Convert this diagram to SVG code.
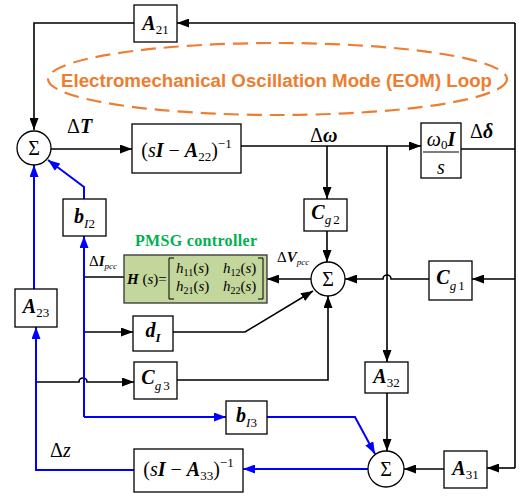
<svg xmlns="http://www.w3.org/2000/svg" width="519" height="497" viewBox="0 0 519 497">
<style>
.bx{fill:#fff;stroke:#000;stroke-width:1.3}
.sg{fill:#fff;stroke:#000;stroke-width:1.3}
.k{fill:none;stroke:#000;stroke-width:1.6}
.b{fill:none;stroke:#0000ff;stroke-width:2}
.m{font-family:"Liberation Serif","Times New Roman",serif;font-size:20px;fill:#000}
.m15{font-family:"Liberation Serif","Times New Roman",serif;font-size:15px;fill:#000}
.c{text-anchor:middle}
.bi{font-weight:bold;font-style:italic}
.it{font-style:italic}
.sb{font-size:13px}
.s10{font-size:10px}
.s9{font-size:9px}
</style>
<defs>
<marker id="ak" markerUnits="userSpaceOnUse" markerWidth="12" markerHeight="9" refX="12" refY="4.5" orient="auto"><path d="M0,0 L12,4.5 L0,9 z" fill="#000"/></marker>
<marker id="ab" markerUnits="userSpaceOnUse" markerWidth="12" markerHeight="9" refX="12" refY="4.5" orient="auto"><path d="M0,0 L12,4.5 L0,9 z" fill="#0000ff"/></marker>
</defs>
<rect width="519" height="497" fill="#fff"/>

<g id="eom-loop">
<ellipse cx="277.5" cy="79" rx="229.5" ry="36" fill="none" stroke="#ed7d31" stroke-width="2.2" stroke-dasharray="15 8"/>
<text x="61" y="87" font-family="'Liberation Sans',Arial,sans-serif" font-weight="bold" font-size="18" fill="#ed7d31" textLength="431" lengthAdjust="spacingAndGlyphs">Electromechanical Oscillation Mode (EOM) Loop</text>
</g>

<g id="connectors">
<path class="k" d="M134,23 H34 V130" marker-end="url(#ak)"/>
<path class="k" d="M461,149 H515 M515,23 V468"/>
<path class="k" d="M515,23 H177" marker-end="url(#ak)"/>
<path class="k" d="M515,279 H472" marker-end="url(#ak)"/>
<path class="k" d="M515,468 H487" marker-end="url(#ak)"/>
<path class="k" d="M51,149 H132" marker-end="url(#ak)"/>
<path class="k" d="M241,146 H421" marker-end="url(#ak)"/>
<path class="k" d="M327,146 V199" marker-end="url(#ak)"/>
<path class="k" d="M327,231 V262" marker-end="url(#ak)"/>
<path class="k" d="M387,146 V362" marker-end="url(#ak)"/>
<path class="k" d="M387,393 V451" marker-end="url(#ak)"/>
<path class="k" d="M444,469 H404" marker-end="url(#ak)"/>
<path class="k" d="M429,279 H391 A4,4 0 0 0 383,279 H345" marker-end="url(#ak)"/>
<path class="k" d="M311,279 H267" marker-end="url(#ak)"/>
<path class="k" d="M124,277 H84"/>
<path class="k" d="M84,332 H133" marker-end="url(#ak)"/>
<path class="k" d="M173,332 H245 L313,291" marker-end="url(#ak)"/>
<path class="k" d="M36,382 H79 A4,4 0 0 1 87,382 H134" marker-end="url(#ak)"/>
<path class="k" d="M177,380 H328 V296" marker-end="url(#ak)"/>
<path class="b" d="M134,470 H36 V327" marker-end="url(#ab)"/>
<path class="b" d="M34,289 V165" marker-end="url(#ab)"/>
<path class="b" d="M84,417 V236" marker-end="url(#ab)"/>
<path class="b" d="M84,417 H226" marker-end="url(#ab)"/>
<path class="b" d="M84,199 V187 L48,160" marker-end="url(#ab)"/>
<path class="b" d="M267,417 H355 L375,454" marker-end="url(#ab)"/>
<path class="b" d="M368,469 H243" marker-end="url(#ab)"/>
</g>

<g id="sum1"><circle class="sg" cx="34" cy="148" r="17"/><text class="m c" x="34" y="155">Σ</text></g>
<g id="sum2"><circle class="sg" cx="328" cy="279" r="17"/><text class="m c" x="328" y="286">Σ</text></g>
<g id="sum3"><circle class="sg" cx="386" cy="469" r="18"/><text class="m c" x="386" y="476">Σ</text></g>

<g id="A21"><rect class="bx" x="134" y="5" width="43" height="37"/><text class="m c" x="155.5" y="30"><tspan class="bi">A</tspan><tspan class="sb" dy="4">21</tspan></text></g>

<g id="sIA22"><rect class="bx" x="132" y="124" width="109" height="49"/><text class="m c" x="186.5" y="157">(<tspan class="it">s</tspan><tspan class="bi">I</tspan> − <tspan class="bi">A</tspan><tspan class="sb" dy="4">22</tspan><tspan dy="-4">)</tspan><tspan class="sb" dy="-9">−1</tspan></text></g>

<g id="omega0"><rect class="bx" x="421" y="123" width="40" height="55"/><line x1="423" y1="152" x2="459" y2="152" stroke="#000" stroke-width="1.2"/><text class="m c" x="441" y="146"><tspan class="it">ω</tspan><tspan class="sb" dy="3">0</tspan><tspan class="bi" dy="-3">I</tspan></text><text class="m c it" x="441" y="174">s</text></g>

<g id="Cg2"><rect class="bx" x="304" y="199" width="43" height="32"/><text class="m c" x="325.5" y="219"><tspan class="bi">C</tspan><tspan class="sb it" dy="5">g</tspan><tspan class="sb" dx="2">2</tspan></text></g>

<g id="Cg1"><rect class="bx" x="429" y="261" width="43" height="39"/><text class="m c" x="450.5" y="284"><tspan class="bi">C</tspan><tspan class="sb it" dy="6">g</tspan><tspan class="sb" dx="2">1</tspan></text></g>

<g id="bI2"><rect class="bx" x="63" y="199" width="43" height="37"/><text class="m c" x="84.5" y="223"><tspan class="bi">b</tspan><tspan class="sb it" dy="5">I</tspan><tspan class="sb">2</tspan></text></g>

<g id="pmsg">
<text x="135" y="246" style="font-family:'Liberation Serif','Times New Roman',serif;font-weight:bold;font-size:16px;fill:#00b050" textLength="122">PMSG controller</text>
<rect x="124" y="255" width="143" height="48" fill="#c3d69b" stroke="#333" stroke-width="1.3"/>
<text class="m15" x="127" y="284"><tspan class="bi">H</tspan> (<tspan class="it">s</tspan>)=</text>
<path d="M174,258 H169 V299 H174 M258,258 H263 V299 H258" fill="none" stroke="#000" stroke-width="1"/>
<text class="m15" x="176" y="273"><tspan class="it">h</tspan><tspan class="s10" dy="3">11</tspan><tspan dy="-3">(</tspan><tspan class="it">s</tspan>)</text>
<text class="m15" x="223" y="273"><tspan class="it">h</tspan><tspan class="s10" dy="3">12</tspan><tspan dy="-3">(</tspan><tspan class="it">s</tspan>)</text>
<text class="m15" x="176" y="291"><tspan class="it">h</tspan><tspan class="s10" dy="3">21</tspan><tspan dy="-3">(</tspan><tspan class="it">s</tspan>)</text>
<text class="m15" x="223" y="291"><tspan class="it">h</tspan><tspan class="s10" dy="3">22</tspan><tspan dy="-3">(</tspan><tspan class="it">s</tspan>)</text>
</g>

<g id="A23"><rect class="bx" x="15" y="289" width="42" height="38"/><text class="m c" x="36" y="313"><tspan class="bi">A</tspan><tspan class="sb" dy="4">23</tspan></text></g>

<g id="dI"><rect class="bx" x="133" y="316" width="40" height="35"/><text class="m c" x="153" y="337"><tspan class="bi">d</tspan><tspan class="sb bi" dy="5">I</tspan></text></g>

<g id="Cg3"><rect class="bx" x="134" y="362" width="43" height="37"/><text class="m c" x="155.5" y="384"><tspan class="bi">C</tspan><tspan class="sb it" dy="6">g</tspan><tspan class="sb" dx="2">3</tspan></text></g>

<g id="A32"><rect class="bx" x="365" y="362" width="43" height="31"/><text class="m c" x="386.5" y="383"><tspan class="bi">A</tspan><tspan class="sb" dy="4">32</tspan></text></g>

<g id="bI3"><rect class="bx" x="226" y="401" width="41" height="33"/><text class="m c" x="246.5" y="422"><tspan class="bi">b</tspan><tspan class="sb it" dy="5">I</tspan><tspan class="sb">3</tspan></text></g>

<g id="sIA33"><rect class="bx" x="134" y="449" width="109" height="43"/><text class="m c" x="188.5" y="476">(<tspan class="it">s</tspan><tspan class="bi">I</tspan> − <tspan class="bi">A</tspan><tspan class="sb" dy="4">33</tspan><tspan dy="-4">)</tspan><tspan class="sb" dy="-9">−1</tspan></text></g>

<g id="A31"><rect class="bx" x="444" y="451" width="43" height="37"/><text class="m c" x="465.5" y="475"><tspan class="bi">A</tspan><tspan class="sb" dy="4">31</tspan></text></g>

<g id="labels">
<text class="m" x="67" y="133">Δ<tspan class="bi">T</tspan></text>
<text class="m" x="310" y="142">Δ<tspan class="bi">ω</tspan></text>
<text class="m" x="470" y="138">Δ<tspan class="bi">δ</tspan></text>
<text class="m" x="50" y="457">Δ<tspan class="it">z</tspan></text>
<text class="m15" x="89" y="266">Δ<tspan class="bi">I</tspan><tspan class="it s9" dy="3">pcc</tspan></text>
<text class="m15" x="277" y="262">Δ<tspan class="bi">V</tspan><tspan class="it s9" dy="3">pcc</tspan></text>
</g>
</svg>
